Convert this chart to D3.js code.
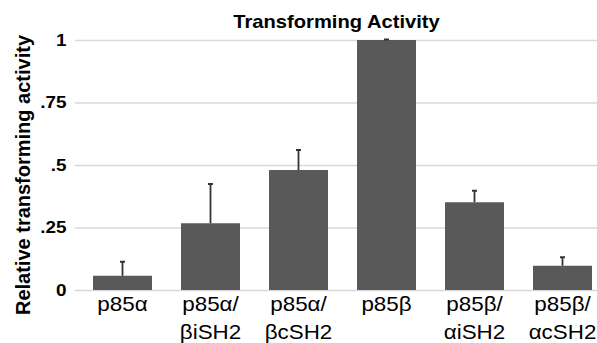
<!DOCTYPE html>
<html>
<head>
<meta charset="utf-8">
<script src="https://cdn.jsdelivr.net/npm/d3@7"></script>
<style>
  body { margin: 0; background: #fff; }
  text { font-family: "Liberation Sans", Arial, sans-serif; }
</style>
</head>
<body>
<script>
var W = 597, H = 343;

// data
var categories = ["p85α", "p85α/βiSH2", "p85α/βcSH2", "p85β", "p85β/αiSH2", "p85β/αcSH2"];
var values = [0.057, 0.267, 0.48, 1.0, 0.351, 0.097];
var errors = [0.056, 0.157, 0.08, 0.002, 0.046, 0.034];
var yTicks = [0, 0.25, 0.5, 0.75, 1];
var yTickLabels = ["0", ".25", ".5", ".75", "1"];

var svg = d3.select("body").append("svg")
  .attr("width", W)
  .attr("height", H);

var left = 75;
var xScale = d3.scaleBand().domain(categories).range([78.5, 606.5])
  .paddingInner(0.33).paddingOuter(0.165);
var yScale = d3.scaleLinear().domain([0, 1]).range([290, 40]);

var stretch = 1.12;

// y axis + gridlines
var yAxis = d3.axisLeft(yScale)
  .tickValues(yTicks)
  .tickSize(-(W - left))
  .tickPadding(9)
  .tickFormat(function (d, i) { return yTickLabels[i]; });

var yAxisGroup = svg.append("g")
  .attr("transform", "translate(" + left + ",0)")
  .call(yAxis);
yAxisGroup.select(".domain").remove();
yAxisGroup.selectAll(".tick line").attr("stroke", "#d9d9d9").attr("stroke-width", 1.3);
yAxisGroup.selectAll(".tick text")
  .attr("x", null)
  .attr("transform", "translate(-8.5,0) scale(1.18,1)")
  .attr("fill", "#000")
  .style("font-size", "16px")
  .style("font-weight", "bold");

// bars
svg.selectAll("rect.bar")
  .data(values)
  .enter()
  .append("rect")
  .attr("class", "bar")
  .attr("x", function (d, i) { return xScale(categories[i]); })
  .attr("y", function (d) { return yScale(d); })
  .attr("width", xScale.bandwidth())
  .attr("height", function (d) { return yScale(0) - yScale(d); })
  .attr("fill", "#595959");

// error bars (upper only)
var errG = svg.selectAll("g.err")
  .data(values)
  .enter()
  .append("g")
  .attr("class", "err");

errG.append("line")
  .attr("x1", function (d, i) { return xScale(categories[i]) + xScale.bandwidth() / 2; })
  .attr("x2", function (d, i) { return xScale(categories[i]) + xScale.bandwidth() / 2; })
  .attr("y1", function (d) { return yScale(d); })
  .attr("y2", function (d, i) { return yScale(d + errors[i]); })
  .attr("stroke", "#333")
  .attr("stroke-width", 1.8);

errG.append("line")
  .attr("x1", function (d, i) { return xScale(categories[i]) + xScale.bandwidth() / 2 - 2.5; })
  .attr("x2", function (d, i) { return xScale(categories[i]) + xScale.bandwidth() / 2 + 2.5; })
  .attr("y1", function (d, i) { return yScale(d + errors[i]); })
  .attr("y2", function (d, i) { return yScale(d + errors[i]); })
  .attr("stroke", "#333")
  .attr("stroke-width", 2);

// x labels, split after "/"
var xLab = svg.selectAll("g.xlab")
  .data(categories)
  .enter()
  .append("g")
  .attr("class", "xlab")
  .attr("transform", function (d) {
    return "translate(" + (xScale(d) + xScale.bandwidth() / 2) + ",0) scale(" + stretch + ",1)";
  });

xLab.each(function (d) {
  var parts = d.indexOf("/") >= 0 ? [d.slice(0, d.indexOf("/") + 1), d.slice(d.indexOf("/") + 1)] : [d];
  var g = d3.select(this);
  parts.forEach(function (p, j) {
    g.append("text")
      .attr("x", 0)
      .attr("y", 311.5 + j * 27.5)
      .attr("text-anchor", "middle")
      .style("font-size", "20px")
      .attr("fill", "#000")
      .text(p);
  });
});

// title
svg.append("text")
  .attr("transform", "translate(336.5,28) scale(" + stretch + ",1)")
  .attr("text-anchor", "middle")
  .style("font-size", "18px")
  .style("font-weight", "bold")
  .text("Transforming Activity");

// y title
svg.append("text")
  .attr("transform", "translate(29.5,175) rotate(-90)")
  .attr("text-anchor", "middle")
  .style("font-size", "20px")
  .style("font-weight", "bold")
  .text("Relative transforming activity");
</script>
</body>
</html>
